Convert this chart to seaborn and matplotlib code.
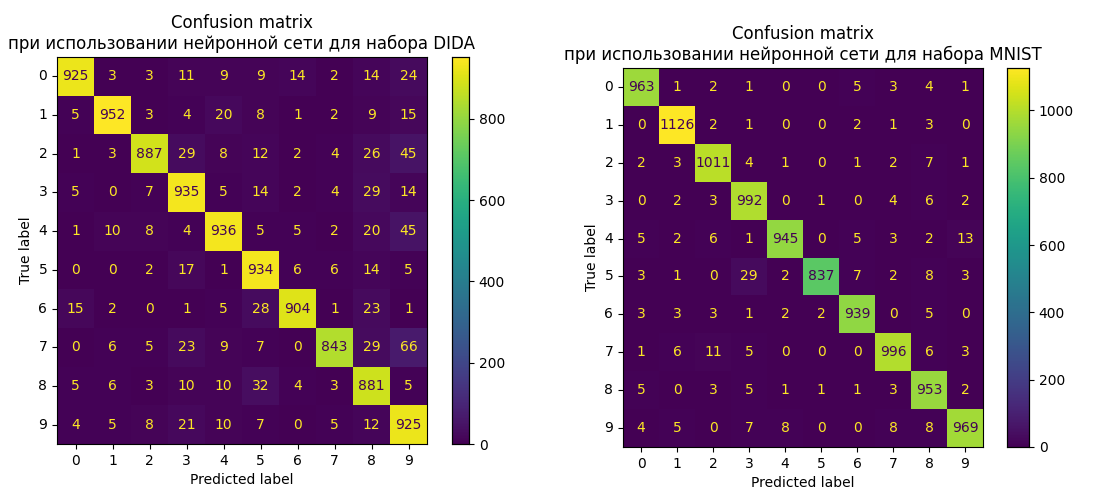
import numpy as np
import matplotlib
matplotlib.use("Agg")
import matplotlib.pyplot as plt
import seaborn as sns

# ----------------------------
# data
# ----------------------------
labels = ["0", "1", "2", "3", "4", "5", "6", "7", "8", "9"]

cm_dida = [
    [925, 3, 3, 11, 9, 9, 14, 2, 14, 24],
    [5, 952, 3, 4, 20, 8, 1, 2, 9, 15],
    [1, 3, 887, 29, 8, 12, 2, 4, 26, 45],
    [5, 0, 7, 935, 5, 14, 2, 4, 29, 14],
    [1, 10, 8, 4, 936, 5, 5, 2, 20, 45],
    [0, 0, 2, 17, 1, 934, 6, 6, 14, 5],
    [15, 2, 0, 1, 5, 28, 904, 1, 23, 1],
    [0, 6, 5, 23, 9, 7, 0, 843, 29, 66],
    [5, 6, 3, 10, 10, 32, 4, 3, 881, 5],
    [4, 5, 8, 21, 10, 7, 0, 5, 12, 925],
]

cm_mnist = [
    [963, 1, 2, 1, 0, 0, 5, 3, 4, 1],
    [0, 1126, 2, 1, 0, 0, 2, 1, 3, 0],
    [2, 3, 1011, 4, 1, 0, 1, 2, 7, 1],
    [0, 2, 3, 992, 0, 1, 0, 4, 6, 2],
    [5, 2, 6, 1, 945, 0, 5, 3, 2, 13],
    [3, 1, 0, 29, 2, 837, 7, 2, 8, 3],
    [3, 3, 3, 1, 2, 2, 939, 0, 5, 0],
    [1, 6, 11, 5, 0, 0, 0, 996, 6, 3],
    [5, 0, 3, 5, 1, 1, 1, 3, 953, 2],
    [4, 5, 0, 7, 8, 0, 0, 8, 8, 969],
]

titles = [
    "Confusion matrix\nпри использовании нейронной сети для набора DIDA",
    "Confusion matrix\nпри использовании нейронной сети для набора MNIST",
]
cbar_ticks = [[0, 200, 400, 600, 800], [0, 200, 400, 600, 800, 1000]]

fig = plt.figure(figsize=(11.03, 4.88), dpi=100)
W, H = 1103, 488

# positions in pixels: heatmap box and colorbar box (left, top, right, bottom)
boxes = [
    ((57, 57, 427, 444), (452, 57, 469, 444)),
    ((623, 68, 983, 447), (1007, 68, 1029, 447)),
]

cmap = plt.get_cmap("viridis")

for cm, title, ticks, (hb, cb) in zip([cm_dida, cm_mnist], titles, cbar_ticks, boxes):
    cm = np.array(cm)
    ax = fig.add_axes([hb[0] / W, 1 - hb[3] / H, (hb[2] - hb[0]) / W, (hb[3] - hb[1]) / H])
    cax = fig.add_axes([cb[0] / W, 1 - cb[3] / H, (cb[2] - cb[0]) / W, (cb[3] - cb[1]) / H])
    sns.heatmap(cm, ax=ax, cbar_ax=cax, cmap="viridis", annot=True, fmt="d",
                annot_kws={"fontsize": 10}, xticklabels=labels, yticklabels=labels,
                vmin=cm.min(), vmax=cm.max())
    # sklearn style text colours
    thresh = (cm.max() + cm.min()) / 2.0
    for t, v in zip(ax.texts, cm.flatten()):
        t.set_color(cmap(0.0) if v >= thresh else cmap(1.0))
    for s in ax.spines.values():
        s.set_visible(True)
        s.set_linewidth(0.8)
    ax.tick_params(axis="both", length=3.5, width=0.8, labelsize=10)
    ax.set_yticklabels(labels, rotation=0)
    ax.set_xticklabels(labels, rotation=0)
    ax.set_xlabel("Predicted label", fontsize=10)
    ax.set_ylabel("True label", fontsize=10)
    ax.set_title(title, fontsize=12)
    cax.set_yticks(ticks)
    cax.tick_params(labelsize=10, length=3.5, width=0.8)
    for s in cax.spines.values():
        s.set_visible(True)
        s.set_linewidth(0.8)

fig.savefig("out.png", dpi=100)
